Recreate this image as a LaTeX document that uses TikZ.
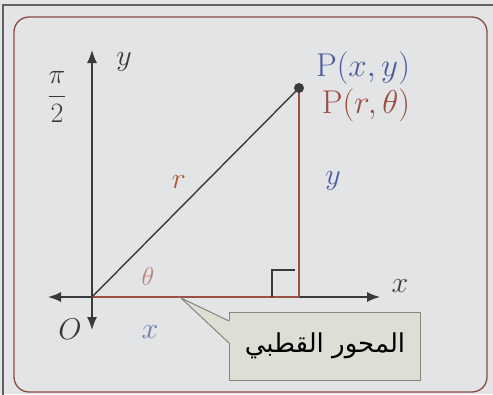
\RequirePackage{fix-cm}
\documentclass[tikz,border=0pt]{standalone}
\usepackage{fontspec}
\newfontfamily\arabicfont[Script=Arabic]{DejaVu Sans}
\TeXXeTstate=1
\usetikzlibrary{arrows.meta}
\definecolor{bg}{HTML}{E3E4E6}
\definecolor{blu}{HTML}{4A5C9E}
\definecolor{brn}{HTML}{9C4E42}
\definecolor{frame}{HTML}{8A4A44}
\definecolor{ax}{HTML}{3A3A3C}
\definecolor{callfill}{HTML}{DCDFD3}
\definecolor{callline}{HTML}{85877F}
\tikzset{
  axisline/.style={draw=ax, line width=1.4pt},
  lbl/.style={font=\fontsize{30}{36}\selectfont, inner sep=0pt},
  calloutbox/.style={draw=callline, fill=callfill, line width=1pt, minimum width=191pt, minimum height=68pt, inner sep=0pt, font=\fontsize{26}{30}\selectfont\arabicfont}
}
\begin{document}
\begin{tikzpicture}[x=1pt,y=-1pt]
\useasboundingbox (0,0) rectangle (493,394);
\fill[bg] (0,0) rectangle (493,394);
% outer dark frame
\draw[line width=2.5pt, color=ax!80] (3,420) -- (3,5) -- (493,5);
% inner rounded frame
\draw[frame, line width=1.3pt, rounded corners=15pt] (14,17) rectangle (487,392);

\coordinate (O) at (92,297);
\coordinate (P) at (299,88);
\coordinate (F) at (299,297);
\coordinate (yt) at (92,50);
\coordinate (yb) at (92,330);
\coordinate (xl) at (48,297);
\coordinate (xr) at (380,297);
\coordinate (tip) at (181,298);

% axes
\draw[axisline, {Latex[length=13pt,width=10pt]}-{Latex[length=13pt,width=10pt]}] (xl) -- (xr);
\draw[axisline, {Latex[length=13pt,width=10pt]}-{Latex[length=13pt,width=10pt]}] (yb) -- (yt);
\draw[brn, line width=1.4pt] (O) -- (F);
% radius and vertical
\draw[ax, line width=1.4pt] (O) -- (P);
\draw[brn, line width=1.4pt] (P) -- (F);
% right angle mark
\draw[ax, line width=1.3pt] ([shift={(-27,0)}]F) -- ([shift={(-27,-27)}]F) -- ([shift={(-4,-27)}]F);
\fill[ax] (P) circle (5pt);

% labels
\node[lbl, ax] (ylab) at (124,62) {$y$};
\node[lbl, ax] (xlab) at (400,286) {$x$};
\node[lbl, ax, font=\fontsize{28}{32}\selectfont] (pi2) at (57,97) {$\displaystyle\frac{\pi}{2}$};
\node[lbl, blu, font=\fontsize{33}{38}\selectfont] (Pxy) at (363,68) {P$(x,y)$};
\node[lbl, brn, font=\fontsize{33}{38}\selectfont] (Prt) at (366,105) {P$(r,\theta)$};
\node[lbl, brn!80!orange] (rlab) at (179,182) {$r$};
\node[lbl, blu] (ylab2) at (333,181) {$y$};
\node[lbl, brn!70!white, font=\fontsize{26}{30}\selectfont] (th) at (148,276) {$\theta$};
\node[lbl, ax] (Olab) at (70,329) {$O$};
\node[lbl, blu!80!white] (xlab2) at (150,332) {$x$};

% callout
\node[calloutbox] (cb) at (325,346) {\beginR المحور القطبي\endR};
\fill[callfill] (tip) -- (230,321) -- (230,343) -- cycle;
\draw[callline, line width=1pt] (cb.west |- 0,321) -- (tip) -- (cb.west |- 0,343);
\end{tikzpicture}
\end{document}
